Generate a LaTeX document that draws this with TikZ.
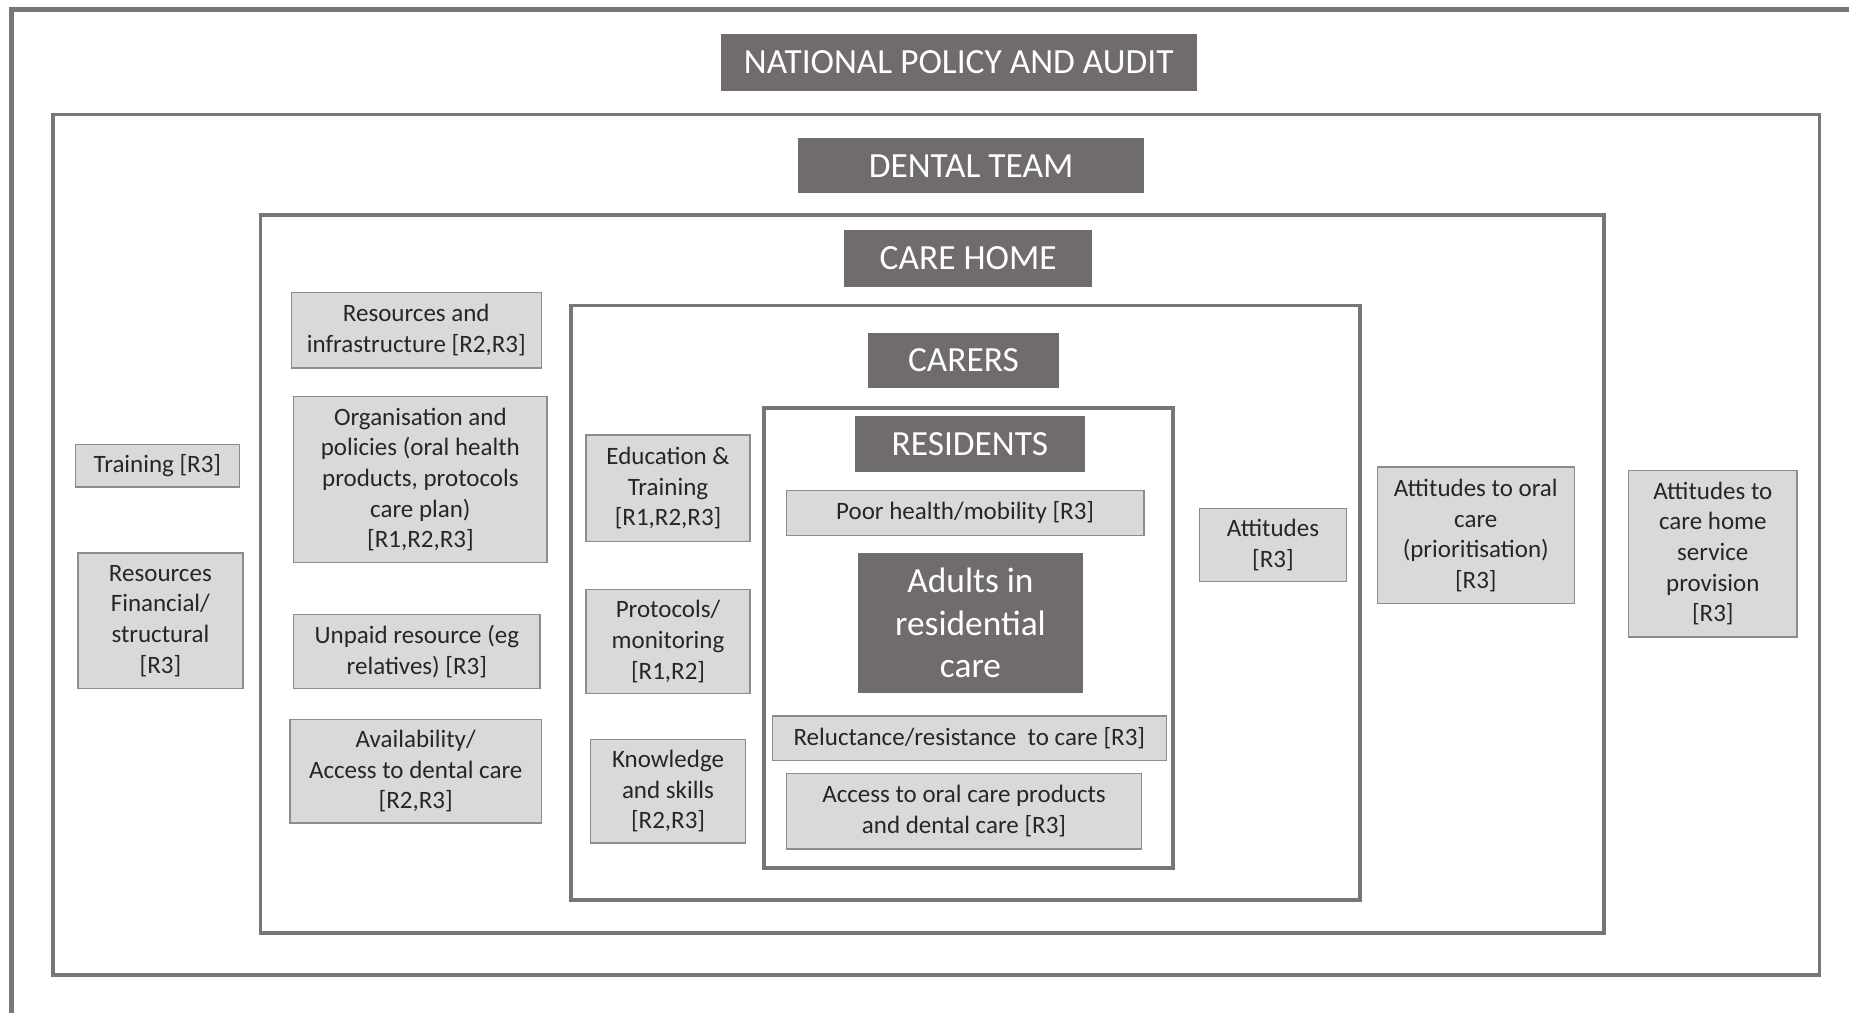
\documentclass[tikz,border=0pt]{standalone}
\usepackage{fontspec}
\setmainfont{Carlito}
\usetikzlibrary{positioning}
\definecolor{headgrey}{HTML}{716C6C}
\definecolor{boxgrey}{HTML}{D9D9D9}
\definecolor{edgegrey}{HTML}{8C8C8C}
\definecolor{framegrey}{HTML}{777777}
\tikzset{
  frame/.style={draw=framegrey, line width=1.6pt},
  headbox/.style={fill=headgrey, text=white, inner sep=0pt, font=\fontsize{15}{18}\selectfont},
  itembox/.style={fill=boxgrey, draw=edgegrey, line width=0.6pt, inner sep=0pt, align=center, text=black!85, font=\fontsize{10.6}{13}\selectfont},
}
\begin{document}
\begin{tikzpicture}[x=0.5pt, y=-0.5pt]
    \useasboundingbox (0,0) rectangle (1568,859);

    % Nested frames
    \draw[frame, line width=2pt] (10,870) -- (10,8) -- (1580,8);
    \draw[frame] (45,97) rectangle (1543,827);
    \draw[frame] (221,182) rectangle (1360,791);
    \draw[frame] (484,259) rectangle (1153,763);
    \draw[frame] (648,346) rectangle (995,736);

    % Level headings
    \node[headbox, minimum width=202pt, minimum height=24pt] (national) at (813,53) {NATIONAL POLICY AND AUDIT};
    \node[headbox, minimum width=146.5pt, minimum height=23.5pt] (dental) at (823.5,140.5) {DENTAL TEAM};
    \node[headbox, minimum width=105pt, minimum height=24pt] (carehome) at (821,219) {CARE HOME};
    \node[headbox, minimum width=81pt, minimum height=23.5pt] (carers) at (817,305.5) {CARERS};
    \node[headbox, minimum width=97.5pt, minimum height=23.5pt] (residents) at (822.5,376.5) {RESIDENTS};
    \node[headbox, minimum width=95pt, minimum height=59.5pt, align=center, font=\fontsize{15}{18}\selectfont] (adults) at (823,528.5) {Adults in\\residential\\care};

    % Dental team factors
    \node[itembox, minimum width=69.5pt, minimum height=18pt] (training) at (133.5,395) {Training [R3]};
    \node[itembox, minimum width=70pt, minimum height=57.5pt] (resfin) at (136,526.5) {Resources\\Financial/\\structural\\{}[R3]};

    % Care home factors
    \node[itembox, minimum width=106pt, minimum height=32pt] (resinfra) at (353,280) {Resources and\\infrastructure [R2,R3]};
    \node[itembox, minimum width=107.5pt, minimum height=70.5pt] (organisation) at (356.5,406.5) {Organisation and\\policies (oral health\\products, protocols\\care plan)\\{}[R1,R2,R3]};
    \node[itembox, minimum width=104.5pt, minimum height=31.5pt] (unpaid) at (353.5,552.5) {Unpaid resource (eg\\relatives) [R3]};
    \node[itembox, minimum width=106.5pt, minimum height=44pt] (availability) at (352.5,654) {Availability/\\Access to dental care\\{}[R2,R3]};

    % Carer factors
    \node[itembox, minimum width=69.5pt, minimum height=45pt] (education) at (566.5,414) {Education \&\\Training\\{}[R1,R2,R3]};
    \node[itembox, minimum width=69.5pt, minimum height=44pt] (protocols) at (566.5,544) {Protocols/\\monitoring\\{}[R1,R2]};
    \node[itembox, minimum width=65.5pt, minimum height=44pt] (knowledge) at (566.5,671) {Knowledge\\and skills\\{}[R2,R3]};
    \node[itembox, minimum width=62.5pt, minimum height=31pt] (attitudes) at (1079.5,462) {Attitudes\\{}[R3]};

    % Resident factors
    \node[itembox, minimum width=151.5pt, minimum height=19pt] (poorhealth) at (818.5,435) {Poor health/mobility [R3]};
    \node[itembox, minimum width=167pt, minimum height=19pt] (reluctance) at (822,626) {Reluctance/resistance\ \ to care [R3]};
    \node[itembox, minimum width=150.5pt, minimum height=32pt] (access) at (817.5,688) {Access to oral care products\\and dental care [R3]};

    % Outer attitudes
    \node[itembox, minimum width=83.5pt, minimum height=58pt] (attoral) at (1251.5,454) {Attitudes to oral\\care\\(prioritisation)\\{}[R3]};
    \node[itembox, minimum width=71.5pt, minimum height=70.5pt] (atthome) at (1452.5,469.5) {Attitudes to\\care home\\service\\provision\\{}[R3]};
\end{tikzpicture}
\end{document}
